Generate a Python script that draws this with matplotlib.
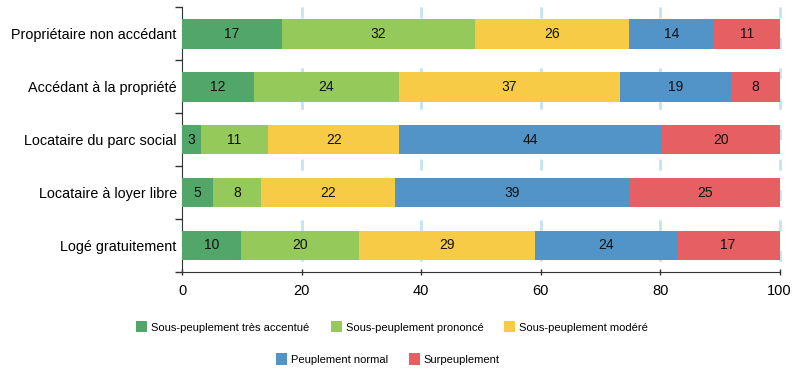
import matplotlib
matplotlib.use("Agg")
import matplotlib.pyplot as plt
from matplotlib.patches import Patch
import numpy as np

plt.rcParams['font.family'] = ['Liberation Sans Narrow', 'Liberation Sans', 'DejaVu Sans']
plt.rcParams['lines.scale_dashes'] = False

categories = ["Propriétaire non accédant", "Accédant à la propriété",
              "Locataire du parc social", "Locataire à loyer libre",
              "Logé gratuitement"]
series_names = ["Sous-peuplement très accentué", "Sous-peuplement prononcé",
                "Sous-peuplement modéré", "Peuplement normal", "Surpeuplement"]
tres_accentue = [16.7, 12.0, 3.1, 5.1, 9.8]
prononce = [32.3, 24.3, 11.3, 8.1, 19.8]
modere = [25.8, 37.0, 21.9, 22.4, 29.4]
normal = [14.3, 18.6, 44.1, 39.4, 23.8]
surpeuplement = [10.9, 8.1, 19.6, 25.0, 17.2]
colors = ["#53A66A", "#95C95A", "#F7CB45", "#5293C8", "#E55F63"]
xticks = [0, 20, 40, 60, 80, 100]

series = [tres_accentue, prononce, modere, normal, surpeuplement]

fig = plt.figure(figsize=(7.96, 3.69), dpi=100)
ax = fig.add_axes([0.2290, 0.263, 0.7503, 0.717])

y = np.arange(len(categories))
left = np.zeros(len(categories))
for vals, col, name in zip(series, colors, series_names):
    vals = np.array(vals, dtype=float)
    ax.barh(y, vals, left=left, height=0.56, color=col, label=name, zorder=3)
    for yi, l, v in zip(y, left, vals):
        ax.text(l + v / 2, yi, f"{int(round(v))}", ha="center", va="center",
                fontsize=10, color="#111111", zorder=4)
    left += vals

ax.set_xlim(0, 100)
ax.set_ylim(len(categories) - 0.5, -0.5)
ax.set_xticks(xticks)
ax.set_xticklabels([str(t) for t in xticks], fontsize=10.5)
ax.set_yticks(y)
ax.set_yticklabels(categories, fontsize=10.4)
ax.tick_params(axis='y', length=0, pad=4)
ax.set_yticks(np.arange(-0.5, len(categories), 1.0), minor=True)
ax.tick_params(axis='y', which='minor', length=5, direction='out', width=1, color='#333333')
ax.tick_params(axis='x', length=4, direction='inout', width=1, color='#333333', pad=7)

for v in xticks[1:]:
    ax.plot([v, v], [-0.5, len(categories) - 0.5], color="#C3E3F1", lw=2,
            linestyle=(0, (7.9, 14.0)), zorder=1, solid_capstyle='butt',
            dash_capstyle='butt', clip_on=False)

for s in ['top', 'right']:
    ax.spines[s].set_visible(False)
ax.spines['left'].set_color('#333333')
ax.spines['bottom'].set_color('#333333')

handles = [Patch(facecolor=c, edgecolor='none') for c in colors]
common = dict(loc='center', frameon=False, fontsize=8.0, handlelength=0.99,
              handleheight=1.17, handletextpad=0.36, columnspacing=1.89,
              borderpad=0, borderaxespad=0)
leg1 = fig.legend(handles[:3], series_names[:3], bbox_to_anchor=(0.493, 0.114),
                  ncol=3, **common)
leg2 = fig.legend(handles[3:], series_names[3:], bbox_to_anchor=(0.487, 0.027),
                  ncol=2, **common)

fig.savefig("out.png", dpi=100)
